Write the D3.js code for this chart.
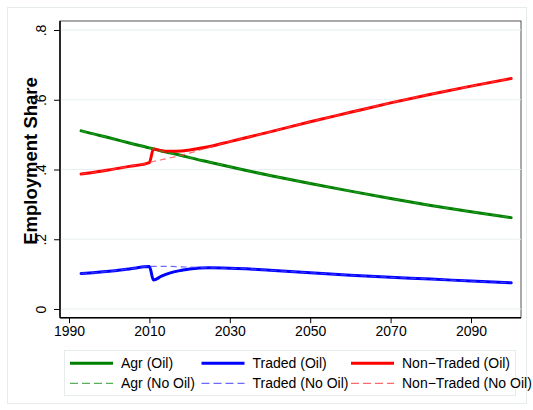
<!DOCTYPE html>
<html>
<head>
<meta charset="utf-8">
<script src="https://cdn.jsdelivr.net/npm/d3@7"></script>
<style>
  html, body { margin: 0; padding: 0; background: #fff; }
  svg { display: block; font-family: "Liberation Sans", Arial, sans-serif; }
</style>
</head>
<body>
<svg id="chart" width="533" height="410"></svg>
<script>
// ---- data ----
const years = [1993, 1995, 2000, 2005, 2010, 2011, 2013, 2015, 2018, 2020, 2025, 2030, 2035, 2040, 2050, 2060, 2070, 2080, 2090, 2100];
const agrOil       = [.511, .505, .491, .476, .462, .459, .453, .448, .440, .434, .421, .408, .395, .383, .360, .338, .317, .297, .279, .262];
const tradedOil    = [.102, .103, .108, .115, .122, .083, .094, .103, .111, .115, .118, .117, .115, .111, .104, .097, .091, .086, .080, .075];
const nonTradedOil = [.387, .390, .399, .409, .420, .459, .454, .452, .453, .456, .466, .480, .494, .508, .537, .564, .591, .616, .639, .661];
const agrNoOil       = [.511, .505, .491, .476, .462, .459, .453, .448, .440, .434, .421, .408, .395, .383, .360, .338, .317, .297, .279, .262];
const tradedNoOil    = [.102, .103, .108, .115, .122, .122, .122, .122, .121, .120, .118, .117, .115, .111, .104, .097, .091, .086, .080, .075];
const nonTradedNoOil = [.387, .390, .399, .409, .420, .423, .428, .433, .441, .447, .464, .480, .494, .508, .537, .564, .591, .616, .639, .661];
const xTicks = [1990, 2010, 2030, 2050, 2070, 2090];
const yTicks = [0, 0.2, 0.4, 0.6, 0.8];
const yTickLabels = ["0", ".2", ".4", ".6", ".8"];
const seriesNames = ["Agr (Oil)", "Traded (Oil)", "Non\u2212Traded (Oil)", "Agr (No Oil)", "Traded (No Oil)", "Non\u2212Traded (No Oil)"];

const series = [
  {name: seriesNames[0], values: agrOil, color: "#008000", dashed: false},
  {name: seriesNames[1], values: tradedOil, color: "#0000ff", dashed: false},
  {name: seriesNames[2], values: nonTradedOil, color: "#ff0000", dashed: false},
  {name: seriesNames[3], values: agrNoOil, color: "#2e9e2e", dashed: true},
  {name: seriesNames[4], values: tradedNoOil, color: "#4646ff", dashed: true},
  {name: seriesNames[5], values: nonTradedNoOil, color: "#ff4646", dashed: true}
];

// ---- layout ----
const svg = d3.select("#chart");
const L = 60, R = 521, T = 21, B = 317.7;

// outer frame
svg.append("rect").attr("x", 7.5).attr("y", 7.5).attr("width", 519).attr("height", 396)
  .attr("fill", "#fff").attr("stroke", "#e6ecec").attr("stroke-width", 1);

const x = d3.scaleLinear().domain([1987.76, 2102.44]).range([L, R]);
const y = d3.scaleLinear().domain([-0.0249, 0.8258]).range([B, T]);

// plot region
svg.append("rect").attr("x", L).attr("y", T).attr("width", R - L).attr("height", B - T)
  .attr("fill", "#fff").attr("stroke", "#555").attr("stroke-width", 1);

// gridlines
svg.append("g").selectAll("line").data(yTicks).join("line")
  .attr("x1", L).attr("x2", R)
  .attr("y1", d => y(d)).attr("y2", d => y(d))
  .attr("stroke", "#e8f0f1").attr("stroke-width", 1.2);

// axes
const yAxis = d3.axisLeft(y).tickValues(yTicks).tickFormat((d, i) => yTickLabels[i]).tickSize(6).tickPadding(4);
const gy = svg.append("g").attr("transform", `translate(${L},0)`).call(yAxis);
gy.select(".domain").attr("stroke", "#000").attr("stroke-width", 1.5).attr("d", `M0,${T}V${B}`);
gy.selectAll(".tick line").attr("stroke", "#000");
gy.selectAll(".tick text")
  .attr("font-size", 14).attr("fill", "#000")
  .attr("x", null).attr("dy", null)
  .attr("text-anchor", "middle")
  .attr("transform", "translate(-14,0) rotate(-90)");

const xAxis = d3.axisBottom(x).tickValues(xTicks).tickFormat(d3.format("d")).tickSize(5.5).tickPadding(3);
const gx = svg.append("g").attr("transform", `translate(0,${B})`).call(xAxis);
gx.select(".domain").attr("stroke", "#000").attr("stroke-width", 1.5).attr("d", `M${L},0H${R}`);
gx.selectAll(".tick line").attr("stroke", "#000");
gx.selectAll(".tick text").attr("font-size", 14).attr("fill", "#000");

// y title
svg.append("text")
  .attr("transform", `translate(37,161) rotate(-90)`)
  .attr("text-anchor", "middle")
  .attr("font-size", 18.5).attr("font-weight", "bold").attr("fill", "#000")
  .text("Employment Share");

// lines
const line = d3.line().x((d, i) => x(years[i])).y(d => y(d)).curve(d3.curveMonotoneX);
svg.append("g").selectAll("path").data(series).join("path")
  .attr("d", d => line(d.values))
  .attr("fill", "none")
  .attr("stroke", d => d.color)
  .attr("stroke-width", d => d.dashed ? 1.2 : 3)
  .attr("stroke-opacity", d => d.dashed ? 0.8 : 1)
  .attr("stroke-dasharray", d => d.dashed ? "6,4" : null)
  .attr("stroke-linecap", d => d.dashed ? "butt" : "round");

// legend
svg.append("rect").attr("x", 64.5).attr("y", 350.5).attr("width", 451).attr("height", 45)
  .attr("fill", "#fff").attr("stroke", "#e6ecec").attr("stroke-width", 1);
const colX = [70, 201.5, 351];
const rowY = [363.3, 383.3];
const lg = svg.append("g").selectAll("g").data(series).join("g")
  .attr("transform", (d, i) => `translate(${colX[i % 3]},${rowY[Math.floor(i / 3)]})`);
lg.append("line").attr("x1", 0).attr("x2", 43).attr("y1", 0).attr("y2", 0)
  .attr("stroke", d => d.color)
  .attr("stroke-width", d => d.dashed ? 1.2 : 3)
  .attr("stroke-opacity", d => d.dashed ? 0.8 : 1)
  .attr("stroke-dasharray", d => d.dashed ? "8,4" : null);
lg.append("text").attr("x", 51).attr("y", 5).attr("font-size", 14).attr("fill", "#000")
  .text(d => d.name);
</script>
</body>
</html>
